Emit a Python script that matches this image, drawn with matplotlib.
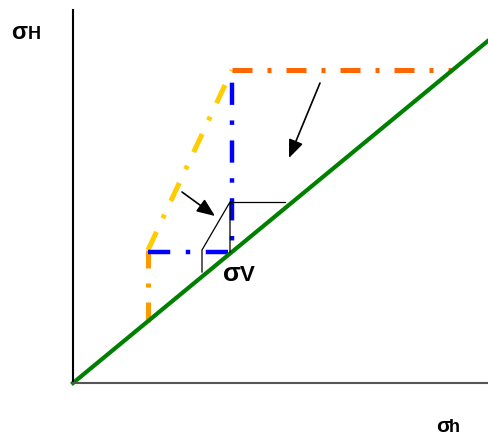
import matplotlib
matplotlib.use("Agg")
import matplotlib.pyplot as plt

# Data (arbitrary stress units)
diag_x = [0, 416]
diag_y = [0, 343]
orange_v_x = [75, 75]
orange_v_y = [61, 133]
yellow_x = [75, 159]
yellow_y = [133, 313]
top_x = [159, 379]
top_y = [313, 313]
blue_x = [75, 159, 159]
blue_y = [131, 131, 313]
black1_x = [129, 129, 157, 157]
black1_y = [111, 133, 181, 131]
black2_x = [157, 212]
black2_y = [181, 181]
arrow1 = ((109, 191), (142, 167))
arrow2 = ((247, 300), (216, 225))

W, H = 489, 438
fig = plt.figure(figsize=(W / 100, H / 100), dpi=100)
ax = fig.add_axes([73 / W, (H - 383) / H, 416 / W, 373 / H])
ax.set_xlim(0, 416)
ax.set_ylim(0, 373)
ax.set_xticks([])
ax.set_yticks([])
for s in ["top", "right"]:
    ax.spines[s].set_visible(False)
ax.spines["left"].set_linewidth(1.5)
ax.spines["left"].set_color("black")
ax.spines["bottom"].set_linewidth(1.5)
ax.spines["bottom"].set_color("#555555")

dash = (0, (4, 3, 0.8, 3))
ax.plot(orange_v_x, orange_v_y, color="#FF9900", lw=3.6, linestyle=dash, dash_capstyle="butt")
ax.plot(yellow_x, yellow_y, color="#FFCC00", lw=3.6, linestyle=dash, dash_capstyle="butt")
ax.plot(top_x, top_y, color="#FF6600", lw=3.6, linestyle=dash, dash_capstyle="butt")
ax.plot(blue_x, blue_y, color="#0000FF", lw=3.2, linestyle=(0, (5, 3.5, 1, 3.5)), dash_capstyle="butt")
ax.plot(diag_x, diag_y, color="#008000", lw=3.0, clip_on=False)
ax.plot(black1_x, black1_y, color="black", lw=0.9)
ax.plot(black2_x, black2_y, color="black", lw=0.9)

for (s, e) in (arrow1, arrow2):
    ax.annotate("", xy=e, xytext=s,
                arrowprops=dict(arrowstyle="-|>,head_length=1.1,head_width=0.45",
                                color="black", lw=1.2, shrinkA=0, shrinkB=0))

font = "Liberation Sans"

def label(x_sig, x_let, base, letter, s_sig, s_let):
    fig.text(x_sig / W, 1 - base / H, "σ", fontsize=s_sig, fontweight="bold",
             family=font, va="baseline")
    fig.text(x_let / W, 1 - base / H, letter, fontsize=s_let, fontweight="bold",
             family=font, va="baseline")

label(11, 28, 39, "H", 17, 13)
label(436, 449, 432, "h", 15, 13)
label(223, 240, 281, "V", 19, 16)

fig.savefig("out.png", dpi=100)
